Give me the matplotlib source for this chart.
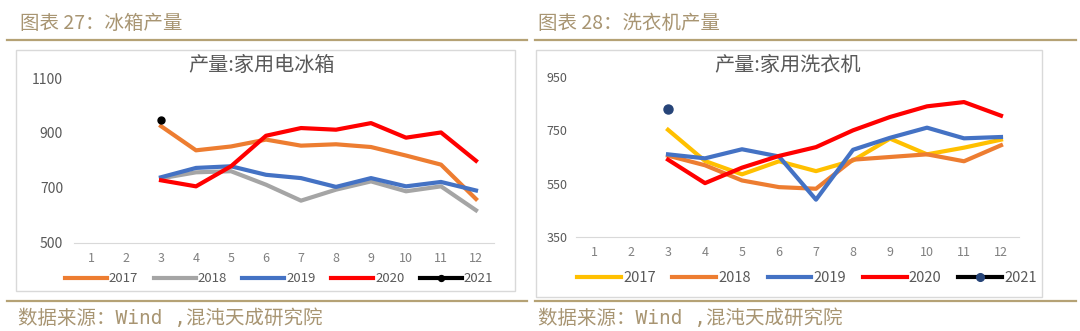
import matplotlib.pyplot as plt
from matplotlib.patches import Rectangle
from matplotlib.lines import Line2D

plt.rcParams['font.family'] = ['Noto Sans CJK SC', 'DejaVu Sans']

months = list(range(1, 13))
years = ['2017', '2018', '2019', '2020', '2021']

# 冰箱产量 (months 3..12)
fridge_2017 = [925, 837, 851, 876, 854, 859, 849, 818, 785, 660]
fridge_2018 = [735, 757, 761, 712, 654, 694, 724, 688, 706, 619]
fridge_2019 = [739, 773, 779, 748, 736, 704, 736, 706, 722, 691]
fridge_2020 = [728, 706, 779, 890, 918, 912, 936, 883, 902, 799]
fridge_2021 = [948]

# 洗衣机产量 (months 3..12)
washer_2017 = [752, 635, 585, 634, 597, 637, 719, 660, 685, 715]
washer_2018 = [655, 619, 562, 537, 531, 640, 650, 660, 634, 694]
washer_2019 = [660, 645, 679, 652, 490, 677, 722, 760, 720, 725]
washer_2020 = [640, 552, 610, 654, 687, 750, 800, 840, 856, 805]
washer_2021 = [829]

gold = '#B5A275'
head_c = '#A89572'

W, H = 1080, 331
fig = plt.figure(figsize=(W / 100, H / 100), dpi=100)


def fx(px):
    return px / W


def fy(py):
    return 1 - py / H


def panel(rect, series, colors, ylim, yticks, dot_color, dot_size,
          ysize, ypad, leg_xy, leg_size, hlen):
    ax = fig.add_axes(rect)
    xs = months[2:]
    for vals, c, lab in zip(series, colors, years[:4]):
        ax.plot(xs, vals, color=c, lw=3.0, label=lab)
    ax.plot([3], series[4], 'o', color=dot_color, ms=dot_size, zorder=5)
    ax.set_xlim(0.5, 12.5)
    ax.set_ylim(*ylim)
    ax.set_yticks(yticks)
    ax.set_xticks(months)
    for s in ['top', 'right', 'left']:
        ax.spines[s].set_visible(False)
    ax.spines['bottom'].set_color('#D9D9D9')
    ax.tick_params(axis='both', length=0)
    ax.tick_params(axis='y', labelsize=ysize, colors='#595959', pad=ypad)
    ax.tick_params(axis='x', labelsize=9, colors='#808080', pad=6.5)
    ax.patch.set_alpha(0)
    handles = [Line2D([], [], color=c, lw=3.0) for c in colors[:4]]
    handles.append(Line2D([], [], color='black', lw=3.0, marker='o', ms=dot_size * 0.85,
                          markerfacecolor=dot_color, markeredgecolor=dot_color))
    fig.legend(handles, years, loc='center', bbox_to_anchor=(fx(leg_xy[0]), fy(leg_xy[1])),
               ncol=5, frameon=False, fontsize=leg_size, handlelength=hlen,
               handletextpad=0.15, columnspacing=1.15, labelcolor='#595959',
               borderpad=0, borderaxespad=0)
    return ax


# header / footer lines and texts
for x0, x1 in [(7, 527), (535, 1076)]:
    fig.add_artist(Line2D([fx(x0), fx(x1)], [fy(40), fy(40)], color=gold, lw=1.6))
    fig.add_artist(Line2D([fx(x0), fx(x1)], [fy(301), fy(301)], color=gold, lw=1.6))
fig.text(fx(20), fy(23), '图表 27：冰箱产量', fontsize=14, color=head_c, va='center')
fig.text(fx(538), fy(23), '图表 28：洗衣机产量', fontsize=14, color=head_c, va='center')
src = '数据来源：Wind ,混沌天成研究院'
src_font = ['DejaVu Sans Mono', 'Noto Sans CJK SC']
fig.text(fx(18), fy(318), src, fontsize=14, color=head_c, va='center', family=src_font)
fig.text(fx(538), fy(318), src, fontsize=14, color=head_c, va='center', family=src_font)

# chart boxes
fig.add_artist(Rectangle((fx(16), fy(291)), fx(499), fy(50) - fy(291), fill=False,
                         ec='#D9D9D9', lw=1.0))
fig.add_artist(Rectangle((fx(536), fy(297)), fx(506), fy(50) - fy(297), fill=False,
                         ec='#D9D9D9', lw=1.0))

ax1 = panel([fx(73.5), fy(243), fx(420), fy(78) - fy(243)],
            [fridge_2017, fridge_2018, fridge_2019, fridge_2020, fridge_2021],
            ['#ED7D31', '#A5A5A5', '#4472C4', '#FF0000'],
            (500, 1100), [500, 700, 900, 1100], 'black', 5,
            10, 7.5, (279, 279), 9.5, 3.2)
fig.text(fx(262), fy(65), '产量:家用电冰箱', fontsize=14.5, color='#595959',
         ha='center', va='center')

ax2 = panel([fx(575.5), fy(237), fx(444), fy(77) - fy(237)],
            [washer_2017, washer_2018, washer_2019, washer_2020, washer_2021],
            ['#FFC000', '#ED7D31', '#4472C4', '#FF0000'],
            (350, 950), [350, 550, 750, 950], '#264478', 6.5,
            9, 6, (807, 278), 10.5, 3.0)
fig.text(fx(788), fy(65), '产量:家用洗衣机', fontsize=14.5, color='#595959',
         ha='center', va='center')

fig.savefig('out.png', dpi=100)
